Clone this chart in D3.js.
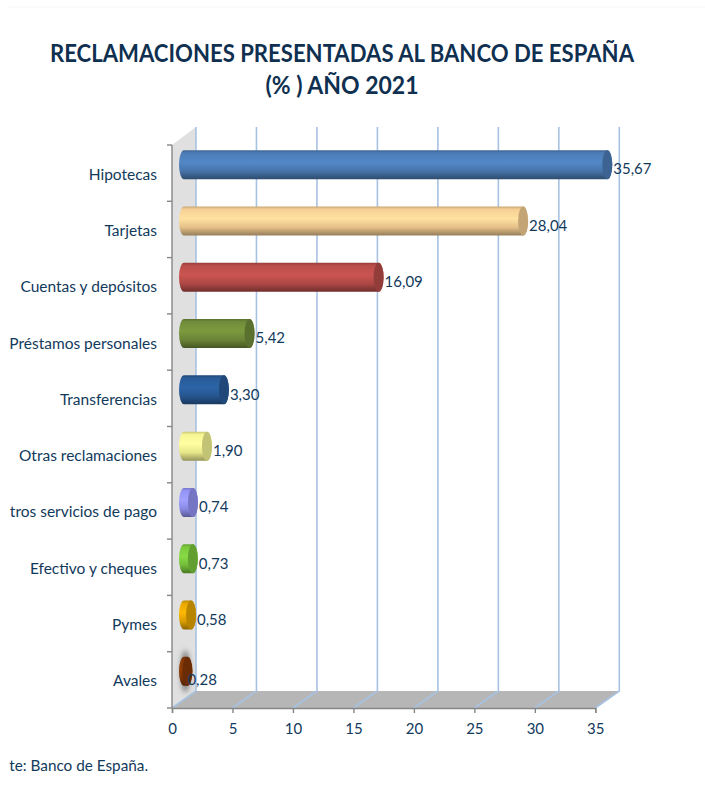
<!DOCTYPE html>
<html>
<head>
  <meta charset="utf-8">
  <title>Reclamaciones presentadas al Banco de España</title>
  <script src="https://d3js.org/d3.v7.min.js"></script>
  <style>
  body { margin: 0; background: #fff; }
  text { font-family: Lato, "Open Sans", sans-serif; fill: #123a5c; }
  .title { font-size: 24px; font-weight: 700; fill: #0f3050; }
  .tick text { font-size: 15px; }
  .cat .tick text { font-size: 15.5px; }
  .val { font-size: 15px; }
  </style>
</head>
<body>
<script>
// two labels are cut at the left edge in the original, kept as they show there
const categories = ["Hipotecas", "Tarjetas", "Cuentas y depósitos", "Préstamos personales", "Transferencias",
  "Otras reclamaciones", "tros servicios de pago", "Efectivo y cheques", "Pymes", "Avales"];
const values = [35.67, 28.04, 16.09, 5.42, 3.30, 1.90, 0.74, 0.73, 0.58, 0.28];
const xTicks = [0, 5, 10, 15, 20, 25, 30, 35];
const barColors = ["#4f81bd", "#ffd699", "#c0504d", "#76923c", "#2a5f9e", "#ffff99", "#9999ff", "#80d040", "#f0ae00", "#8a3a06"];
const sourceText = "te: Banco de España.";

const width = 705, height = 790;
// depth of the fake 3d box
const depthX = 24, depthY = 17;
const rx = 5, barH = 29;

// axis stops at 35, so the first bar is cut there like in the original
const x = d3.scaleLinear().domain([0, 35]).range([172, 595.3]).clamp(true);
const y = d3.scaleBand().domain(categories).range([145, 708]);

const rows = categories.map((name, i) => ({ name, value: values[i], i }));

const svg = d3.select("body").append("svg")
  .attr("width", width).attr("height", height)
  .style("display", "block");
const defs = svg.append("defs");

defs.append("filter").attr("id", "blur")
  .attr("x", "-100%").attr("y", "-50%").attr("width", "300%").attr("height", "200%")
  .append("feGaussianBlur").attr("stdDeviation", 2.5);

// faint page edge at the top
svg.append("line").attr("x1", 8).attr("x2", width).attr("y1", 7).attr("y2", 7)
  .attr("stroke", "#f6f6f6");

// title
svg.append("text").attr("class", "title").attr("x", 342).attr("y", 62)
  .attr("text-anchor", "middle").attr("textLength", 584).attr("lengthAdjust", "spacingAndGlyphs")
  .text("RECLAMACIONES PRESENTADAS AL BANCO DE ESPAÑA");
svg.append("text").attr("class", "title").attr("x", 342).attr("y", 94)
  .attr("text-anchor", "middle").attr("textLength", 153).attr("lengthAdjust", "spacingAndGlyphs")
  .text("(% ) AÑO 2021");

const x0 = x(0), x1 = x(35), yTop = y.range()[0], yBot = y.range()[1];

// wall and floor
svg.append("polygon")
  .attr("points", [[x0, yTop], [x0 + depthX, yTop - depthY - 1], [x0 + depthX, yBot - depthY], [x0, yBot]].join(" "))
  .attr("fill", "#e0e0e0");
svg.append("polygon")
  .attr("points", [[x0, yBot], [x0 + depthX, yBot - depthY], [x1 + depthX, yBot - depthY], [x1, yBot]].join(" "))
  .attr("fill", "#b6b6b6");

// gridlines, back wall then floor diagonal
svg.append("g").attr("stroke", "#a8c2e2").attr("stroke-width", 1.6).attr("fill", "none")
  .selectAll("path").data(xTicks).enter().append("path")
  .attr("d", d => `M${x(d) + depthX},${yTop - depthY - 1}V${yBot - depthY}L${x(d)},${yBot}`);

// axes
const xAxis = d3.axisBottom(x).tickValues(xTicks).tickSize(5).tickPadding(10).tickFormat(d3.format("d"));
const yAxis = d3.axisLeft(y).tickSize(0).tickPadding(15);

const gx = svg.append("g").attr("transform", `translate(0,${yBot})`).call(xAxis);
gx.selectAll("path,line").attr("stroke", "#868686").attr("stroke-width", 1.4);

const gy = svg.append("g").attr("class", "cat").attr("transform", `translate(${x0},1.5)`).call(yAxis);
gy.select(".domain").remove();

// y axis line and ticks sit on band edges
const yEdges = categories.map(c => y(c)).concat(yBot);
const yLine = svg.append("g").attr("stroke", "#868686").attr("stroke-width", 1.4);
yLine.append("line").attr("x1", x0).attr("x2", x0).attr("y1", yTop).attr("y2", yBot);
yLine.selectAll(".t").data(yEdges).enter().append("line").attr("class", "t")
  .attr("x1", x0 - 5).attr("x2", x0).attr("y1", d => d).attr("y2", d => d);

// bars
const barY = d => y(d.name) + y.bandwidth() / 2 - depthY / 2 - barH / 2;
const barStart = x0 + depthX / 2;
const barEnd = d => x(d.value) + depthX / 2;

barColors.forEach((col, i) => {
  const c = d3.color(col);
  const g = defs.append("linearGradient").attr("id", "bar" + i)
    .attr("x1", 0).attr("y1", 0).attr("x2", 0).attr("y2", 1);
  [[0, c.darker(0.7)], [0.1, c.darker(0.1)], [0.42, c.brighter(0.15)], [0.72, c.darker(0.3)], [1, c.darker(1.5)]]
    .forEach(s => g.append("stop").attr("offset", s[0]).attr("stop-color", s[1]));
});

const bars = svg.append("g").selectAll("g").data(rows).enter().append("g");

// soft shadow, only visible on the last one
bars.filter(d => d.i === rows.length - 1).append("ellipse")
  .attr("cx", d => barEnd(d) - 2)
  .attr("cy", d => barY(d) + barH / 2)
  .attr("rx", 5).attr("ry", 21)
  .attr("fill", "#888").attr("filter", "url(#blur)");

bars.append("path")
  .attr("d", d => {
    const t = barY(d), e = barEnd(d), s = barStart, ry = barH / 2;
    return `M${s},${t}H${e}A${rx},${ry} 0 0 1 ${e},${t + barH}H${s}A${rx},${ry} 0 0 1 ${s},${t}Z`;
  })
  .attr("fill", d => `url(#bar${d.i})`);

bars.append("ellipse")
  .attr("cx", barEnd)
  .attr("cy", d => barY(d) + barH / 2)
  .attr("rx", rx).attr("ry", barH / 2)
  .attr("fill", d => d3.color(barColors[d.i]).darker(0.75));

// value labels, the last one was dragged onto its bar in the original
svg.append("g").selectAll("text").data(rows).enter().append("text")
  .attr("class", "val")
  .attr("x", d => barEnd(d) + rx + 1 - (d.i === rows.length - 1 ? 6 : 0))
  .attr("y", d => y(d.name) + y.bandwidth() / 2 - 4 + (d.i === rows.length - 1 ? 4 : 0))
  .attr("dy", "0.35em")
  .text(d => d3.format(".2f")(d.value).replace(".", ","));

// source
svg.append("text").attr("x", 148).attr("y", 770.5).attr("text-anchor", "end")
  .style("font-size", "15.3px")
  .text(sourceText);
</script>
</body>
</html>
